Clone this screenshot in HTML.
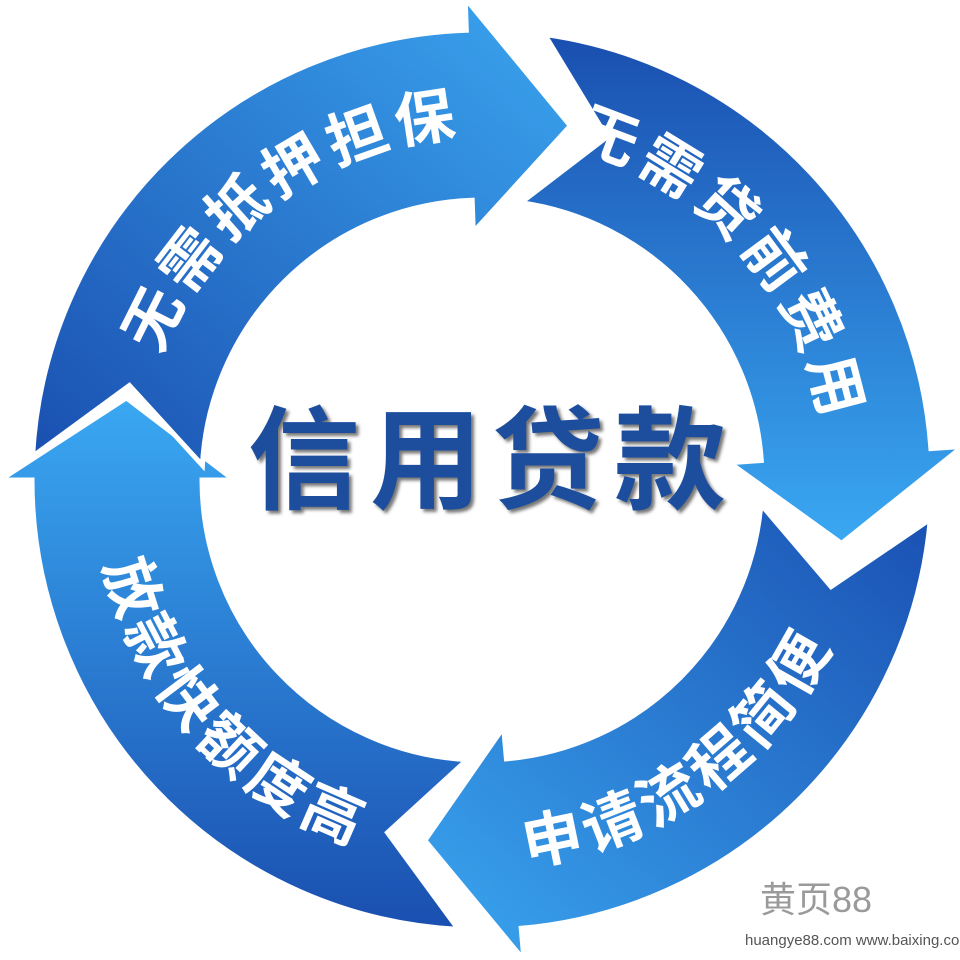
<!DOCTYPE html>
<html><head><meta charset="utf-8"><style>
html,body{margin:0;padding:0;background:#fff;}
svg{display:block}
</style></head><body>
<svg id="s" width="960" height="960" viewBox="0 0 960 960" xmlns="http://www.w3.org/2000/svg">
<defs>
<linearGradient id="gA" x1="0" y1="1" x2="1" y2="0"><stop offset="0" stop-color="#1a4fb0"/><stop offset="1" stop-color="#3ba6f0"/></linearGradient>
<linearGradient id="gB" x1="0" y1="0" x2="0" y2="1"><stop offset="0" stop-color="#1a4fb0"/><stop offset="1" stop-color="#3aa8f2"/></linearGradient>
<linearGradient id="gC" x1="1" y1="0" x2="0" y2="1"><stop offset="0" stop-color="#1a50b2"/><stop offset="1" stop-color="#3aa6f0"/></linearGradient>
<linearGradient id="gD" x1="0" y1="1" x2="0" y2="0"><stop offset="0" stop-color="#1a4fb0"/><stop offset="1" stop-color="#3aa8f2"/></linearGradient>
<path id="tA" d=""/><path id="tB" d=""/><path id="tC" d=""/><path id="tD" d=""/>
</defs>
<g id="arrows"></g>
<g font-family="'Liberation Sans','Noto Sans CJK SC',sans-serif" font-weight="bold" font-size="60" fill="#fff" text-anchor="middle">
<text><textPath href="#tA" startOffset="50%" letter-spacing="6">无需抵押担保</textPath></text>
<text><textPath href="#tB" startOffset="50%" letter-spacing="6">无需贷前费用</textPath></text>
<text><textPath href="#tC" startOffset="50%" letter-spacing="6">申请流程简便</textPath></text>
<text><textPath href="#tD" startOffset="50%" letter-spacing="6">放款快额度高</textPath></text>
</g>
<text x="492" y="500" text-anchor="middle" font-family="'Liberation Sans','Noto Sans CJK SC',sans-serif" font-weight="bold" font-size="112" fill="#1d4e9e" letter-spacing="10" style="text-shadow:3px 3px 3px #777">信用贷款</text>
<text x="760" y="912" font-family="'Liberation Sans','Noto Sans CJK SC',sans-serif" font-size="36" fill="#9a9a9a">黄页88</text>
<text x="745" y="945" font-family="'Liberation Sans',sans-serif" font-size="15" fill="#555">huangye88.com www.baixing.com</text>
</svg>
<script>
(function(){
var cx=482,cy=480,r1=280,r2=450,ext=32,rm=365;
function p(r,a){a=a*Math.PI/180;return (cx+r*Math.cos(a)).toFixed(1)+","+(cy+r*Math.sin(a)).toFixed(1);}
function seg(s,e,t,fill){
 var d="M"+p(r2,s)+" A"+r2+","+r2+" 0 0 1 "+p(r2,e)+" L"+p(r2+ext,e)+" L"+p(rm,t)+" L"+p(r1-ext,e)+" L"+p(r1,e)+" A"+r1+","+r1+" 0 0 0 "+p(r1,s)+" L"+p(rm,s+12)+" Z";
 return '<path d="'+d+'" fill="'+fill+'" stroke="#fff" stroke-width="5" stroke-linejoin="miter"/>';
}
var g=document.getElementById("arrows");
g.innerHTML=seg(-82,-4,10,"url(#gB)")+seg(5,85,99,"url(#gC)")+seg(93,180,193,"url(#gD)")+seg(183,268,284,"url(#gA)");
function arc(id,a0,a1,r){
 var sweep=a1>a0?1:0;
 document.getElementById(id).setAttribute("d","M"+p(r,a0)+" A"+r+","+r+" 0 0 "+sweep+" "+p(r,a1));
}
arc("tA",196,272,345);
arc("tB",272,364,345);
arc("tC",105,3,387);
arc("tD",188,88,387);
})();
</script>
</body></html>
